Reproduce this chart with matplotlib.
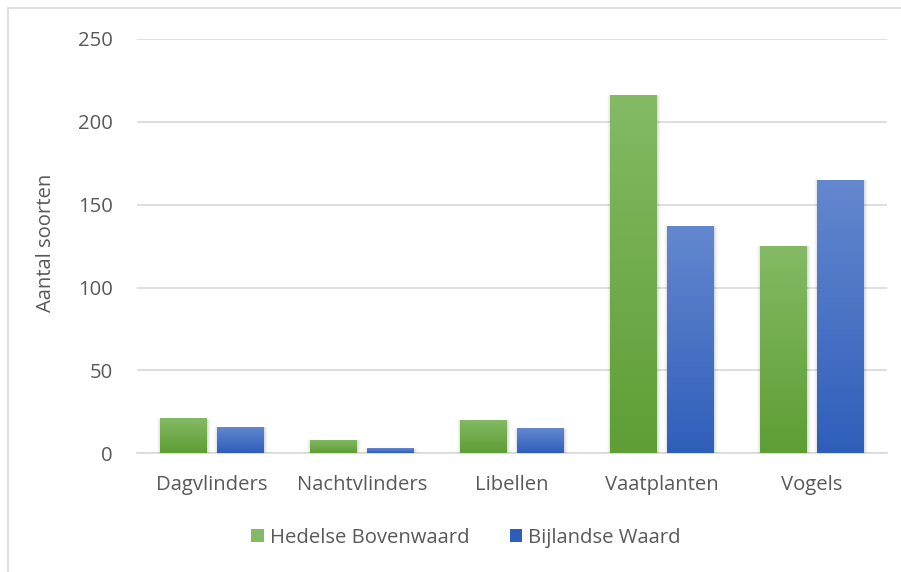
import numpy as np
import matplotlib.pyplot as plt
from matplotlib.patches import Rectangle
from matplotlib.colors import LinearSegmentedColormap

plt.rcParams['font.family'] = ['Open Sans', 'DejaVu Sans']

# Aantal soorten per soortgroep
groepen = ['Dagvlinders', 'Nachtvlinders', 'Libellen', 'Vaatplanten', 'Vogels']
hedelse = [21, 8, 20, 216, 125]
bijlandse = [16, 3, 15, 137, 165]
series = ['Hedelse Bovenwaard', 'Bijlandse Waard']

groen = ('#84ba64', '#5e9e35')   # boven, onder
blauw = ('#6488cf', '#2f5eba')
tekst = '#595959'
fs = 14.6

fig = plt.figure(figsize=(9.01, 5.72), dpi=100)
fig.patches.append(Rectangle((8 / 901, -0.1), 1.2, 1 - 8 / 572 + 0.1,
                             transform=fig.transFigure, fill=False,
                             edgecolor='#d9d9d9', linewidth=1.2))

ax = fig.add_axes([137 / 901, 1 - 453.3 / 572, 750 / 901, (453.3 - 38.8) / 572])
ax.set_xlim(-0.5, len(groepen) - 0.5)
ax.set_ylim(0, 250)

x = np.arange(len(groepen))
breedte = 0.313
offset = 0.19


def verloop_balk(xc, h, kleuren):
    x0 = xc - breedte / 2
    # zachte schaduw rond de balk
    for i, a in enumerate([0.05, 0.04, 0.03, 0.02]):
        d = 0.006 * (i + 1)
        ax.add_patch(Rectangle((x0 - d + 0.004, -2), breedte + 2 * d,
                               h + 2 + d * 12 - 0.4, facecolor='black',
                               edgecolor='none', alpha=a, zorder=2))
    cmap = LinearSegmentedColormap.from_list('v', [kleuren[1], kleuren[0]])
    grad = np.linspace(0, 1, 256).reshape(-1, 1)
    rect = Rectangle((x0, 0), breedte, h, facecolor='none', edgecolor='none', zorder=3)
    ax.add_patch(rect)
    im = ax.imshow(grad, extent=(x0, x0 + breedte, 0, h), origin='lower',
                   cmap=cmap, aspect='auto', zorder=3)
    im.set_clip_path(rect)


for xi, h in zip(x - offset, hedelse):
    verloop_balk(xi, h, groen)
for xi, h in zip(x + offset, bijlandse):
    verloop_balk(xi, h, blauw)

ax.set_xlim(-0.5, len(groepen) - 0.5)
ax.set_ylim(0, 250)

ax.set_yticks(np.arange(0, 251, 50))
ax.yaxis.grid(True, color='#d9d9d9', linewidth=1.2, zorder=0)
ax.set_axisbelow(True)
ax.set_xticks(x)
ax.set_xticklabels(groepen)
ax.tick_params(axis='both', length=0, labelsize=fs, labelcolor=tekst)
ax.tick_params(axis='y', pad=17.5)
ax.tick_params(axis='x', pad=15.5)
for s in ['top', 'right', 'left']:
    ax.spines[s].set_visible(False)
ax.spines['bottom'].set_color('#d9d9d9')
ax.spines['bottom'].set_linewidth(1.2)
ax.spines['bottom'].set_zorder(1)

fig.text(46 / 901, 1 - 243 / 572, 'Aantal soorten', rotation=90, fontsize=fs,
         color=tekst, ha='center', va='center')

handles = [Rectangle((0, 0), 1, 1, facecolor=groen[0], edgecolor='none'),
           Rectangle((0, 0), 1, 1, facecolor=blauw[1], edgecolor='none')]
fig.legend(handles, series, loc='center', bbox_to_anchor=(466 / 901, 1 - 538 / 572),
           ncol=2, frameon=False, fontsize=fs, labelcolor=tekst,
           handlelength=0.6, handleheight=0.6, handletextpad=0.3,
           columnspacing=2.0)

fig.savefig('out.png', dpi=100)
